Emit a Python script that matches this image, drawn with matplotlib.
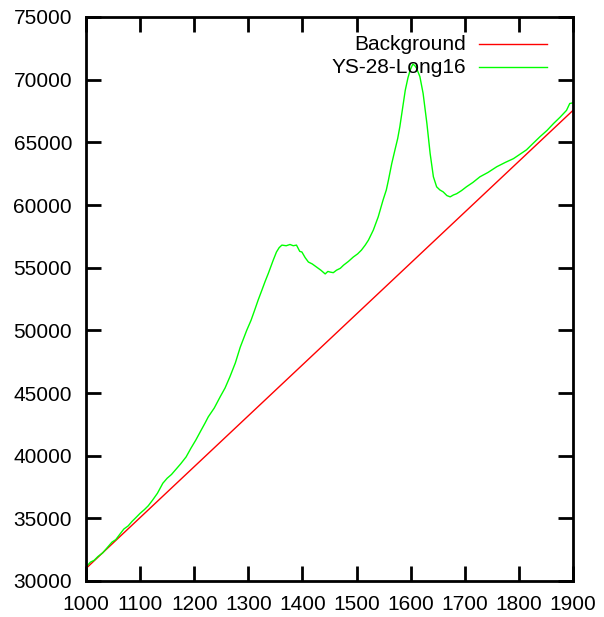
import matplotlib
matplotlib.use("Agg")
import matplotlib.pyplot as plt
import numpy as np

# background line (two end points, straight)
bg_x = [1000, 1900]
bg_y = [31000, 67550]

spec_x = [1000, 1008, 1015, 1022, 1031, 1040, 1048, 1055, 1062, 1070, 1078, 1085,
          1092, 1100, 1108, 1115, 1123, 1132, 1142, 1150, 1158, 1166, 1175, 1185,
          1194, 1203, 1213, 1220, 1226, 1237, 1248, 1257, 1266, 1276, 1285, 1297,
          1305, 1312, 1318, 1325, 1331, 1337, 1346, 1352, 1357, 1362, 1370, 1377,
          1383, 1389, 1395, 1399, 1405, 1411, 1418, 1426, 1434, 1442, 1447, 1451,
          1457, 1463, 1470, 1476, 1485, 1494, 1502, 1509, 1516, 1522, 1531, 1540,
          1549, 1555, 1559, 1565, 1571, 1576, 1580, 1585, 1590, 1595, 1599, 1604,
          1608, 1611, 1617, 1623, 1630, 1636, 1642, 1648, 1654, 1660, 1667, 1673,
          1679, 1685, 1694, 1703, 1715, 1728, 1743, 1759, 1775, 1790, 1802, 1814,
          1827, 1839, 1852, 1864, 1876, 1888, 1894, 1900]
spec_y = [31100, 31500, 31650, 31950, 32250, 32700, 33100, 33300, 33700, 34150, 34400, 34750,
          35050, 35400, 35700, 36000, 36450, 37000, 37800, 38200, 38500, 38900, 39350, 39900,
          40600, 41250, 42050, 42600, 43100, 43800, 44700, 45400, 46300, 47400, 48650, 50000,
          50800, 51650, 52400, 53200, 53900, 54550, 55600, 56250, 56600, 56800, 56750, 56850,
          56750, 56800, 56300, 56250, 55800, 55450, 55300, 55050, 54800, 54500, 54700, 54650,
          54600, 54800, 54950, 55200, 55500, 55850, 56100, 56400, 56800, 57200, 58000, 59050,
          60400, 61200, 62000, 63300, 64400, 65300, 66250, 67700, 69150, 70150, 70750, 71250,
          71100, 70900, 70250, 68900, 66500, 64100, 62250, 61450, 61200, 61050, 60750, 60650,
          60800, 60900, 61150, 61450, 61800, 62250, 62600, 63050, 63400, 63700, 64050, 64400,
          64950, 65450, 65950, 66500, 67000, 67550, 68100, 68150]

plt.rcParams["font.family"] = ["Liberation Sans", "DejaVu Sans"]

fig = plt.figure(figsize=(6.04, 6.17), dpi=100)
ax = fig.add_axes([86 / 604, 36 / 617, 487 / 604, 564 / 617])

ax.plot(bg_x, bg_y, color="#ff0000", lw=1.0)
ax.plot(spec_x, spec_y, color="#00ff00", lw=1.0)

ax.set_xlim(1000, 1900)
ax.set_ylim(30000, 75000)
ax.set_xticks(np.arange(1000, 1901, 100))
ax.set_yticks(np.arange(30000, 75001, 5000))

for s in ax.spines.values():
    s.set_linewidth(2)
ax.tick_params(direction="in", length=11, width=2, top=True, right=True,
               labelsize=15, colors="black")
ax.tick_params(axis="x", pad=10)
ax.tick_params(axis="y", pad=10)

# legend, gnuplot style: right aligned labels, sample line on the right
legend_rows = [("Background", "#ff0000", 0.952), ("YS-28-Long16", "#00ff00", 0.911)]
for label, col, yy in legend_rows:
    ax.text(0.780, yy, label, transform=ax.transAxes, ha="right", va="center", fontsize=15)
    ax.plot([0.807, 0.947], [yy, yy], transform=ax.transAxes, color=col, lw=1.0)

fig.savefig("out.png", dpi=100)
